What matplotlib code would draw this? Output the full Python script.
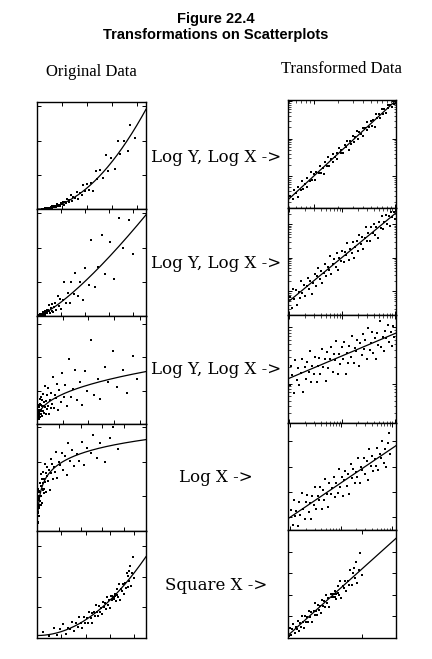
import numpy as np
import matplotlib
matplotlib.use("Agg")
import matplotlib.pyplot as plt
from matplotlib.ticker import MaxNLocator

# ---------------- data ----------------
# Pair 1: log10 values (straight line on log-log axes)
log_x1 = [-0.29,-0.26,-0.25,-0.22,-0.20,-0.19,-0.16,-0.14,-0.13,-0.11,-0.09,-0.08,-0.05,-0.04,-0.02,0.00,
          0.02,0.03,0.06,0.07,0.09,0.11,0.12,0.14,0.16,0.18,0.19,0.21,0.23,0.24,0.26,0.28,0.29,0.31,0.33,
          0.34,0.36,0.38,0.40,0.41,0.43,0.45,0.46,0.48,0.50,0.51,0.53,0.55,0.56,0.58,0.60,0.61,0.63,0.65,
          0.66,0.68,0.70,0.72,0.73,0.75,0.77,0.78,0.80,0.82,0.84,0.85,0.87,0.89,0.91,0.92,0.94,0.96,0.97,0.99]
log_y1 = [-0.53,-0.62,-0.38,-0.44,-0.55,-0.30,-0.37,-0.13,-0.34,-0.20,-0.30,-0.06,-0.12,0.10,-0.10,0.07,
          -0.10,0.10,0.09,0.27,0.09,0.23,0.07,0.37,0.28,0.52,0.28,0.45,0.39,0.59,0.51,0.62,0.45,0.76,0.61,
          0.70,0.61,0.84,0.78,0.94,0.70,0.94,0.86,1.06,0.91,1.03,1.21,0.98,1.17,1.13,1.29,1.08,1.28,1.23,
          1.45,1.32,1.47,1.34,1.49,1.32,1.65,1.54,1.66,1.56,1.80,1.65,1.78,1.67,1.90,1.81,1.90,1.83,1.99,1.92]

# Pair 2: log10 values
log_x2 = [-0.98,-0.95,-0.93,-0.90,-0.87,-0.85,-0.82,-0.80,-0.77,-0.75,-0.72,-0.70,-0.67,-0.65,-0.62,-0.60,
          -0.57,-0.55,-0.52,-0.50,-0.47,-0.45,-0.42,-0.40,-0.37,-0.35,-0.32,-0.30,-0.27,-0.25,-0.22,-0.20,
          -0.17,-0.15,-0.12,-0.10,-0.07,-0.05,-0.02,0.00,0.03,0.05,0.08,0.10,0.13,0.15,0.18,0.20,0.23,0.25,
          0.28,0.30,0.33,0.35,0.38,0.40,0.43,0.45,0.48,0.50,0.53,0.55,0.58,0.60,0.63,0.65,0.68,0.70,0.73,
          0.75,0.78,0.80,0.83,0.85,0.88,0.90,0.93,0.95,0.98,1.00]
log_y2 = [-1.17,-1.49,-0.93,-1.22,-0.95,-1.41,-1.03,-1.19,-0.69,-1.06,-0.80,-1.13,-0.85,-0.61,-0.93,-0.69,
          -1.07,-0.74,-0.48,-0.83,-0.55,-0.30,-0.64,-0.39,-0.74,-0.45,-0.20,-0.53,-0.27,-0.37,0.04,-0.47,
          -0.19,-0.03,-0.27,0.13,-0.37,-0.02,-0.10,0.19,-0.12,0.18,0.08,0.43,-0.07,0.27,0.13,0.47,-0.01,0.33,
          0.51,0.20,0.68,0.40,0.61,0.25,0.59,0.91,0.49,0.74,0.49,0.90,0.72,1.01,0.67,0.91,0.59,1.05,0.87,
          1.25,0.84,1.06,1.28,1.00,1.24,0.94,1.36,1.20,1.35,1.16]

# Pair 3: log10 values
log_x3 = [-0.99,-0.96,-0.94,-0.91,-0.89,-0.86,-0.83,-0.81,-0.78,-0.76,-0.73,-0.71,-0.68,-0.66,-0.63,-0.61,
          -0.58,-0.56,-0.53,-0.51,-0.48,-0.46,-0.43,-0.41,-0.38,-0.36,-0.33,-0.31,-0.28,-0.26,-0.23,-0.21,
          -0.18,-0.16,-0.13,-0.11,-0.08,-0.06,-0.03,-0.01,0.02,0.04,0.07,0.09,0.12,0.14,0.17,0.19,0.22,0.24,
          0.27,0.29,0.32,0.34,0.37,0.39,0.42,0.44,0.47,0.49,0.52,0.54,0.57,0.59,0.62,0.64,0.67,0.69,0.72,
          0.74,0.77,0.79,0.82,0.84,0.87,0.89,0.92,0.94,0.97,0.99]
log_y3 = [-0.02,0.32,0.15,-0.16,0.42,0.07,0.27,-0.02,0.19,0.44,-0.14,0.29,0.09,0.39,0.20,0.57,0.03,0.32,
          0.18,0.48,0.03,0.31,0.45,0.17,0.61,0.29,0.43,0.05,0.56,0.27,0.43,0.65,0.21,0.52,0.41,0.76,0.18,
          0.53,0.34,0.64,0.43,0.73,0.17,0.55,0.37,0.67,0.47,0.85,0.36,0.63,0.58,0.78,0.32,0.71,0.51,0.88,
          0.61,0.77,0.43,0.99,0.60,0.72,0.91,0.55,0.80,0.44,0.90,0.69,1.10,0.64,0.83,0.57,0.93,0.80,1.04,
          0.74,0.91,0.67,1.01,0.83]

# Pair 4: log10 x, linear y
log_x4 = [-0.98,-0.95,-0.93,-0.90,-0.88,-0.85,-0.82,-0.80,-0.77,-0.75,-0.72,-0.69,-0.67,-0.64,-0.62,-0.59,
          -0.57,-0.54,-0.51,-0.49,-0.46,-0.44,-0.41,-0.38,-0.36,-0.33,-0.31,-0.28,-0.25,-0.23,-0.20,-0.18,
          -0.15,-0.12,-0.10,-0.07,-0.05,-0.02,0.01,0.03,0.06,0.08,0.11,0.14,0.16,0.19,0.21,0.24,0.27,0.29,
          0.32,0.34,0.37,0.40,0.42,0.45,0.47,0.50,0.53,0.55,0.58,0.60,0.63,0.66,0.68,0.71,0.73,0.76,0.79,
          0.81,0.84,0.86,0.89,0.92,0.94,0.97]
y4 = [3.39,2.50,3.99,3.05,3.34,2.45,3.91,3.10,4.41,3.45,2.86,3.87,4.31,3.32,3.81,2.87,4.26,3.72,4.78,3.47,
      4.23,4.02,4.78,3.49,4.58,3.99,5.28,4.39,3.60,4.99,4.35,4.74,5.40,4.16,5.00,4.41,5.85,4.81,5.37,4.26,
      5.17,5.71,4.87,5.53,4.37,6.13,5.32,5.88,4.99,5.68,5.39,6.53,5.04,6.00,5.79,6.50,5.54,6.30,5.21,7.05,
      6.01,6.65,5.76,6.47,6.06,7.12,5.81,6.77,6.48,7.52,6.23,7.07,5.98,7.39,7.98,6.74]

# Pair 5: linear x and y (square-x relationship)
x5 = [0.6,1.2,1.7,2.1,2.4,2.7,3.0,3.2,3.4,3.6,3.8,4.0,4.2,4.3,4.5,4.6,4.8,4.9,5.1,5.2,5.3,5.5,5.6,5.7,5.9,
      6.0,6.1,6.2,6.3,6.4,6.5,6.6,6.7,6.8,6.9,7.0,7.1,7.2,7.3,7.4,7.5,7.6,7.7,7.8,7.85,7.9,7.95,8.0,8.05,
      8.1,8.2,8.3,8.4,8.5,8.6,8.7,8.8,8.9,9.0,9.1,9.2,9.3,9.4,9.5,9.6,9.7,9.8,9.9,10.0,9.45,8.25,7.75]
y5 = [0.62,0.18,0.97,0.26,0.84,1.33,0.43,1.00,0.88,1.56,0.64,1.44,1.03,2.08,1.48,0.94,2.05,1.50,1.92,1.48,
      2.54,1.97,2.43,1.50,2.54,2.11,3.28,2.55,2.12,3.10,2.57,2.95,2.33,3.51,2.99,3.47,2.85,4.03,3.22,3.70,
      2.89,4.08,3.77,4.06,3.80,4.05,3.80,4.34,4.09,3.64,4.83,4.03,5.33,3.73,4.83,4.63,5.33,4.33,5.34,4.94,
      6.35,4.96,6.07,5.58,7.09,5.10,6.32,7.93,5.85,6.52,4.18,4.11]

labels = ["Log Y, Log X ->", "Log Y, Log X ->", "Log Y, Log X ->", "Log X ->", "Square X ->"]

# ---------------- figure ----------------
W, H = 432, 659
fig = plt.figure(figsize=(W / 100, H / 100), dpi=100)
fig.patch.set_facecolor("white")

def add_ax(x0, top, w, h):
    return fig.add_axes([x0 / W, 1 - (top + h) / H, w / W, h / H])

def style(ax):
    ax.tick_params(which="both", direction="in", top=True, right=True,
                   bottom=True, left=True, labelbottom=False, labelleft=False,
                   length=3, width=0.7)
    ax.tick_params(which="minor", length=1.8, width=0.5)
    for s in ax.spines.values():
        s.set_linewidth(1.0)
        s.set_color("black")

pt = dict(ls="none", marker="s", ms=1.5, mew=0, color="black")
ln = dict(color="black", lw=0.9)

Lx0, Lw, Ltop, Lh = 37, 109, 102, 107.2
Rx0, Rw, Rtop, Rh = 288, 108, 100, 107.6

left_axes = [add_ax(Lx0, Ltop + i * Lh, Lw, Lh) for i in range(5)]
right_axes = [add_ax(Rx0, Rtop + i * Rh, Rw, Rh) for i in range(5)]

loglog_sets = [(log_x1, log_y1), (log_x2, log_y2), (log_x3, log_y3)]
left_lims = [((0, 10.9), (0, 125)), ((0, 11.3), (0, 25)), ((0, 10.6), (0, 16.2)),
             ((0, 12.5), (2.0, 8.2)), ((0, 11.2), (0, 10.5))]
right_lims = [((0.48, 10.3), (0.145, 107)), ((0.095, 10.5), (0.0195, 30.9)),
              ((0.095, 10.5), (0.204, 16.2)), ((0.09, 12), (2.2, 8.6)), ((0, 12.1), (0, 10))]

for i, (lxs, lys) in enumerate(loglog_sets):
    lx = np.array(lxs); ly = np.array(lys)
    x = 10 ** lx; y = 10 ** ly
    b, a = np.polyfit(lx, ly, 1)
    axL, axR = left_axes[i], right_axes[i]
    (xl, yl), (xr, yr) = left_lims[i], right_lims[i]
    start = 0.01 if i < 2 else x.min()
    xs = np.linspace(start, xl[1], 300)
    axL.plot(x, y, **pt)
    axL.plot(xs, 10 ** (a + b * np.log10(xs)), **ln)
    axL.set_xlim(xl); axL.set_ylim(yl)
    axR.set_xscale("log"); axR.set_yscale("log")
    xs = np.geomspace(xr[0], xr[1], 300)
    axR.plot(x, y, **pt)
    axR.plot(xs, 10 ** (a + b * np.log10(xs)), **ln)
    axR.set_xlim(xr); axR.set_ylim(yr)

# pair 4: log x
lx = np.array(log_x4); y = np.array(y4); x = 10 ** lx
b, a = np.polyfit(lx, y, 1)
axL, axR = left_axes[3], right_axes[3]
(xl, yl), (xr, yr) = left_lims[3], right_lims[3]
xs = np.linspace(x.min(), xl[1], 300)
axL.plot(x, y, **pt); axL.plot(xs, a + b * np.log10(xs), **ln)
axL.set_xlim(xl); axL.set_ylim(yl)
axR.set_xscale("log")
xs = np.geomspace(xr[0], xr[1], 300)
axR.plot(x, y, **pt); axR.plot(xs, a + b * np.log10(xs), **ln)
axR.set_xlim(xr); axR.set_ylim(yr)

# pair 5: square x
x = np.array(x5); y = np.array(y5)
b, a = np.polyfit(x ** 2, y, 1)
axL, axR = left_axes[4], right_axes[4]
(xl, yl), (xr, yr) = left_lims[4], right_lims[4]
xs = np.linspace(xl[0], xl[1], 300)
axL.plot(x, y, **pt); axL.plot(xs, a + b * xs ** 2, **ln)
axL.set_xlim(xl); axL.set_ylim(yl)
axR.set_xscale("function", functions=(lambda v: np.sign(v) * v ** 2,
                                      lambda v: np.sign(v) * np.sqrt(np.abs(v))))
xs = np.linspace(xr[0], xr[1], 300)
axR.plot(x, y, **pt); axR.plot(xs, a + b * xs ** 2, **ln)
axR.set_xlim(xr); axR.set_ylim(yr)

for ax in left_axes:
    ax.xaxis.set_major_locator(MaxNLocator(5))
    ax.yaxis.set_major_locator(MaxNLocator(4))
    style(ax)
for i, ax in enumerate(right_axes):
    if i == 4 or i == 3:
        ax.yaxis.set_major_locator(MaxNLocator(5))
    style(ax)

# ---------------- texts ----------------
def fx(px): return px / W
def fy(py): return 1 - py / H

fig.text(fx(216), fy(19), "Figure 22.4", ha="center", va="center",
         family="Liberation Sans", weight="bold", fontsize=10.5)
fig.text(fx(216), fy(35), "Transformations on Scatterplots", ha="center", va="center",
         family="Liberation Sans", weight="bold", fontsize=10.5)
fig.text(fx(91), fy(72), "Original Data", ha="center", va="center",
         family="Liberation Serif", fontsize=12)
fig.text(fx(341), fy(69), "Transformed Data", ha="center", va="center",
         family="Liberation Serif", fontsize=12)

label_y = [157, 263, 370, 478, 586]
for lab, py in zip(labels, label_y):
    fig.text(fx(216), fy(py), lab, ha="center", va="center",
             family="DejaVu Serif", fontsize=12)

fig.savefig("out.png", dpi=100, facecolor="white")
